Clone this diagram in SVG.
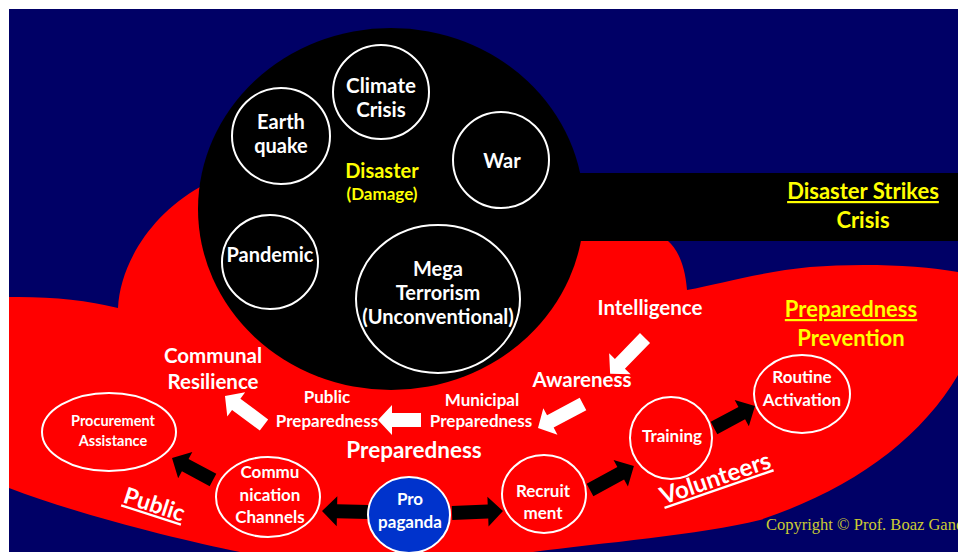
<svg xmlns="http://www.w3.org/2000/svg" width="958" height="552" viewBox="0 0 958 552">
<style>
text{font-family:Lato,"Liberation Sans",sans-serif;font-weight:bold;text-anchor:middle}
.w{fill:#ffffff}
.y{fill:#ffff00}
.c{fill:none;stroke:#ffffff;stroke-width:2}
.cr{fill:#ff0000;stroke:#ffffff;stroke-width:2}
.t20{font-size:20px}
.tl{font-size:20.5px}
.ty{font-size:22px}
.t17{font-size:17px}
.ba{fill:#000000}
.wa{fill:#ffffff}
</style>
<rect x="0" y="0" width="958" height="552" fill="#ffffff"/>
<rect x="9" y="9" width="949" height="543" fill="#000066"/>
<path id="red-blob" fill="#ff0000" d="M9,297 Q70,296 118,308 C120,265 150,215 200,187 L400,150 L620,210 L668,241 C678,250 685,265 687,290 C720,284 760,272 810,267 C860,263 920,265 958,272 L958,375 C920,440 850,490 760,520 C700,535 600,543 533,552 L240,552 C180,540 80,515 9,488 Z"/>
<rect id="crisis-band" x="391" y="173" width="567" height="68" fill="#000000"/>
<ellipse id="disaster-circle" cx="391" cy="209" rx="193" ry="181" fill="#000000"/>

<g id="connectors">
<g transform="translate(645,338) rotate(134.2)"><polygon class="wa" points="0,-7 36,-7 36,-15 50,0 36,15 36,7 0,7"/></g>
<g transform="translate(583,404) rotate(151.9)"><polygon class="wa" points="0,-7 37,-7 37,-15 51,0 37,15 37,7 0,7"/></g>
<g transform="translate(421,420) rotate(180)"><polygon class="wa" points="0,-7 29,-7 29,-15 43,0 29,15 29,7 0,7"/></g>
<g transform="translate(264,425) rotate(-143.4)"><polygon class="wa" points="0,-7 34.6,-7 34.6,-15 48.6,0 34.6,15 34.6,7 0,7"/></g>
<g transform="translate(213,480) rotate(-151.8)"><polygon class="ba" points="0,-7 31.5,-7 31.5,-15 46.5,0 31.5,15 31.5,7 0,7"/></g>
<g transform="translate(368,512) rotate(181.2)"><polygon class="ba" points="0,-7 31,-7 31,-15 46,0 31,15 31,7 0,7"/></g>
<g transform="translate(452,513) rotate(-2.2)"><polygon class="ba" points="0,-7 36,-7 36,-15 51,0 36,15 36,7 0,7"/></g>
<g transform="translate(590,490) rotate(-28.6)"><polygon class="ba" points="0,-7 35,-7 35,-15 50,0 35,15 35,7 0,7"/></g>
<g transform="translate(714,428) rotate(-28.2)"><polygon class="ba" points="0,-7 31.5,-7 31.5,-15 46.5,0 31.5,15 31.5,7 0,7"/></g>
</g>

<g id="earthquake"><ellipse class="c" cx="281" cy="136" rx="49" ry="48"/><text class="w t20" x="281" y="129">Earth</text><text class="w t20" x="281" y="153">quake</text></g>
<g id="climate"><ellipse class="c" cx="381" cy="92" rx="48" ry="47"/><text class="w tl" x="381" y="93">Climate</text><text class="w tl" x="381" y="117">Crisis</text></g>
<g id="war"><ellipse class="c" cx="501" cy="160" rx="48" ry="48"/><text class="w t20" x="502" y="168">War</text></g>
<g id="disaster"><text class="y t20" x="382" y="178">Disaster</text><text class="y" style="font-size:17px" x="382" y="200">(Damage)</text></g>
<g id="pandemic"><ellipse class="c" cx="270" cy="262" rx="48" ry="47"/><text class="w t20" x="270" y="262">Pandemic</text></g>
<g id="mega-terrorism"><ellipse class="c" cx="438" cy="299" rx="82" ry="74"/><text class="w t20" x="438" y="276">Mega</text><text class="w t20" x="438" y="300">Terrorism</text><text class="w t20" x="438" y="324">(Unconventional)</text></g>

<g id="disaster-strikes"><text class="y ty" x="863" y="199" text-decoration="underline">Disaster Strikes</text><text class="y ty" x="863" y="228">Crisis</text></g>
<g id="preparedness-prevention"><text class="y ty" x="851" y="317" text-decoration="underline">Preparedness</text><text class="y ty" x="851" y="346">Prevention</text></g>

<g id="intelligence"><text class="w tl" x="650" y="315">Intelligence</text></g>
<g id="awareness"><text class="w tl" x="582" y="387">Awareness</text></g>
<g id="municipal"><text class="w t17" x="482" y="406">Municipal</text><text class="w t17" x="481" y="427">Preparedness</text></g>
<g id="public-prep"><text class="w t17" x="327" y="403">Public</text><text class="w t17" x="327" y="427">Preparedness</text></g>
<g id="communal"><text class="w tl" x="213" y="363">Communal</text><text class="w tl" x="213" y="389">Resilience</text></g>
<g id="preparedness"><text class="w" style="font-size:22.5px" x="414" y="458">Preparedness</text></g>

<g id="procurement"><ellipse class="c" cx="109" cy="432" rx="67" ry="39"/><text class="w" style="font-size:14.5px" x="113" y="426">Procurement</text><text class="w" style="font-size:14.5px" x="113" y="446">Assistance</text></g>
<g id="communication"><ellipse class="c" cx="268" cy="497" rx="52" ry="40"/><text class="w t17" x="270" y="478">Commu</text><text class="w t17" x="270" y="501">nication</text><text class="w t17" x="270" y="523">Channels</text></g>
<g id="propaganda"><ellipse cx="409" cy="515" rx="41" ry="38" fill="#0033cc" stroke="#ffffff" stroke-width="2"/><text class="w t17" x="410" y="505">Pro</text><text class="w t17" x="410" y="528">paganda</text></g>
<g id="recruitment"><ellipse class="cr" cx="544" cy="494" rx="42" ry="39"/><text class="w t17" x="543" y="497">Recruit</text><text class="w t17" x="543" y="519">ment</text></g>
<g id="training"><ellipse class="cr" cx="671" cy="438" rx="41" ry="41"/><text class="w t17" x="672" y="442">Training</text></g>
<g id="routine"><ellipse class="cr" cx="802" cy="394" rx="48" ry="39"/><text class="w t17" x="802" y="383">Routine</text><text class="w t17" x="802" y="406">Activation</text></g>

<g id="public-label"><text class="w" style="font-size:23px" text-decoration="underline" transform="translate(152,512) rotate(18)">Public</text></g>
<g id="volunteers-label"><text class="w" style="font-size:24px" text-decoration="underline" transform="translate(718,486) rotate(-19)">Volunteers</text></g>
<g id="copyright"><text style="font-family:'Liberation Serif',serif;font-weight:normal;font-size:16.5px;text-anchor:start;fill:#cccc33" x="766" y="530">Copyright © Prof. Boaz Ganor</text></g>
</svg>
